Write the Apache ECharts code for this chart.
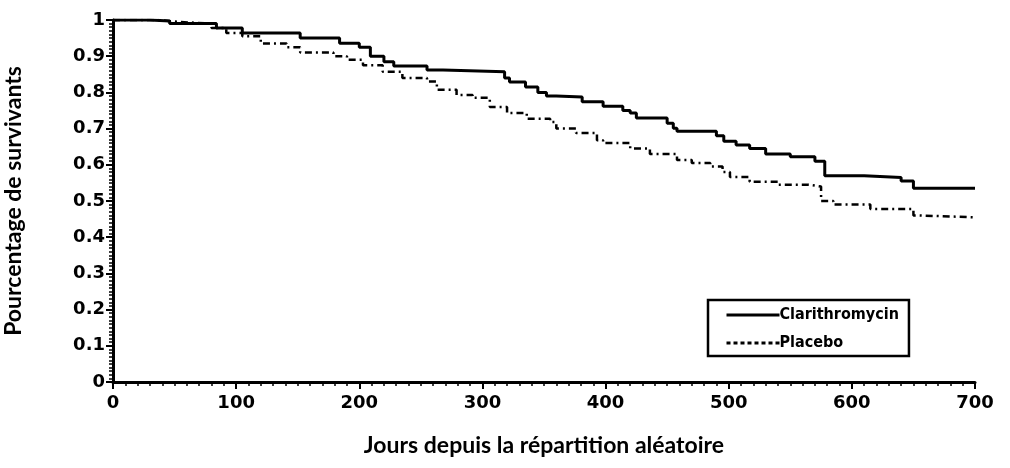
<!DOCTYPE html>
<html>
<head>
<meta charset="utf-8">
<script src="https://cdn.jsdelivr.net/npm/echarts@6/dist/echarts.min.js"></script>
<style>
  html, body { margin: 0; padding: 0; background: #fff; }
  #chart { width: 1010px; height: 468px; }
</style>
</head>
<body>
<div id="chart"></div>
<script>
// Kaplan-Meier curves: [jour, survie]
const clarithromycin = [
  [0, 1.0], [30, 0.997], [46, 0.99], [84, 0.978], [105, 0.964], [152, 0.95],
  [184, 0.936], [200, 0.925], [209, 0.9], [220, 0.885], [228, 0.873], [255, 0.862],
  [268, 0.857], [318, 0.84], [322, 0.829], [335, 0.815], [345, 0.8], [352, 0.79],
  [360, 0.787], [381, 0.774], [398, 0.762], [414, 0.75], [420, 0.743], [425, 0.729],
  [450, 0.715], [455, 0.701], [458, 0.693], [490, 0.68], [496, 0.665], [506, 0.655],
  [517, 0.645], [530, 0.63], [550, 0.622], [570, 0.61], [578, 0.57], [610, 0.565],
  [640, 0.555], [650, 0.535], [700, 0.535]
];
const placebo = [
  [0, 1.0], [36, 0.995], [52, 0.99], [80, 0.978], [92, 0.964], [105, 0.955],
  [120, 0.935], [141, 0.925], [152, 0.91], [179, 0.9], [190, 0.89], [203, 0.875],
  [219, 0.857], [235, 0.84], [255, 0.83], [263, 0.807], [279, 0.793], [292, 0.785],
  [306, 0.76], [320, 0.743], [336, 0.727], [355, 0.718], [360, 0.7], [376, 0.688],
  [393, 0.668], [398, 0.66], [420, 0.645], [436, 0.63], [458, 0.613], [470, 0.605],
  [485, 0.595], [495, 0.58], [501, 0.566], [517, 0.553], [540, 0.545], [565, 0.54],
  [575, 0.5], [585, 0.49], [615, 0.478], [650, 0.46], [655, 0.455], [700, 0.455]
];
const seriesNames = ['Clarithromycin', 'Placebo'];
const xTitle = 'Jours depuis la répartition aléatoire';
const yTitle = 'Pourcentage de survivants';

const tickFont = { color: '#000', fontFamily: 'DejaVu Sans', fontWeight: 'bold', fontSize: 18 };
const titleFont = { color: '#000', fontFamily: 'Lato, "Open Sans", sans-serif', fontWeight: 'bold', fontSize: 23 };

const chart = echarts.init(document.getElementById('chart'));

const axisCommon = {
  axisLine: { show: true, lineStyle: { color: '#000', width: 3 } },
  axisTick: { show: true, length: 7, lineStyle: { color: '#000', width: 2 } },
  minorTick: { show: true, splitNumber: 10, length: 4, lineStyle: { color: '#000', width: 1.5 } },
  splitLine: { show: false }
};

chart.setOption({
  animation: false,
  backgroundColor: '#fff',
  grid: { left: 113, right: 35, top: 20, bottom: 86, containLabel: false, outerBoundsMode: 'none' },
  legend: {
    orient: 'vertical',
    left: 708,
    top: 300,
    padding: [7, 10, 5, 17],
    itemGap: 12,
    itemWidth: 53,
    itemHeight: 16,
    borderColor: '#000',
    borderWidth: 2.5,
    borderRadius: 0,
    itemStyle: { opacity: 0 },
    textStyle: {
      color: '#000',
      fontFamily: '"DejaVu Sans Condensed", "Liberation Sans", sans-serif',
      fontWeight: 'bold',
      fontSize: 16,
      padding: [0, 0, 0, -5]
    },
    data: [
      { name: seriesNames[0], lineStyle: { type: 'solid', width: 3 } },
      { name: seriesNames[1], lineStyle: { type: [4, 3], width: 3 } }
    ]
  },
  xAxis: Object.assign({}, axisCommon, {
    type: 'value',
    min: 0,
    max: 700,
    interval: 100,
    name: xTitle,
    nameLocation: 'middle',
    nameGap: 52,
    nameTextStyle: titleFont,
    axisLabel: Object.assign({}, tickFont, { margin: 12 })
  }),
  yAxis: Object.assign({}, axisCommon, {
    type: 'value',
    min: 0,
    max: 1,
    interval: 0.1,
    name: yTitle,
    nameLocation: 'middle',
    nameGap: 88,
    nameTextStyle: titleFont,
    axisLabel: Object.assign({}, tickFont, { margin: 8 })
  }),
  series: [
    {
      name: seriesNames[0],
      type: 'line',
      step: 'end',
      data: clarithromycin,
      symbol: 'none',
      lineStyle: { color: '#000', width: 3, type: 'solid' },
      itemStyle: { color: '#000' }
    },
    {
      name: seriesNames[1],
      type: 'line',
      step: 'end',
      data: placebo,
      symbol: 'none',
      lineStyle: { color: '#000', width: 2.5, type: [7, 4, 2, 4] },
      itemStyle: { color: '#000' }
    }
  ]
});
</script>
</body>
</html>
